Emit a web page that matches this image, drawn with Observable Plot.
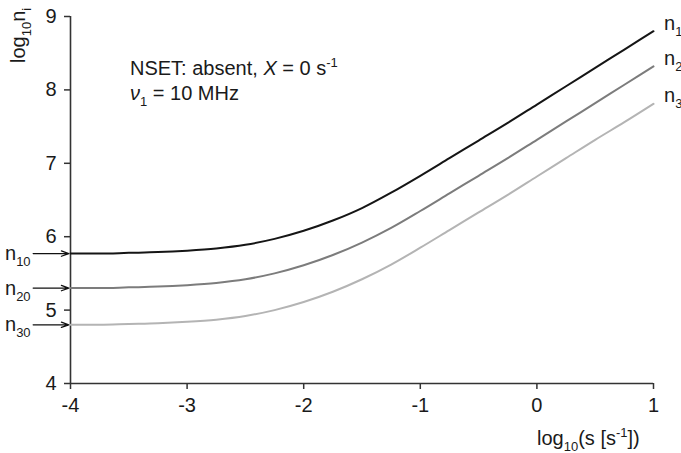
<!DOCTYPE html>
<html>
<head>
<meta charset="utf-8">
<script src="https://cdn.jsdelivr.net/npm/d3@7"></script>
<script src="https://cdn.jsdelivr.net/npm/@observablehq/plot@0.6"></script>
<style>
  html, body { margin: 0; padding: 0; background: #fff; overflow: hidden; }
</style>
</head>
<body>
<div id="chart"></div>
<script>
const xs = [-4, -3.75, -3.5, -3.25, -3, -2.75, -2.5, -2.25, -2, -1.75, -1.5, -1.25, -1, -0.75, -0.5, -0.25, 0, 0.25, 0.5, 0.75, 1];
const n1 = [5.77, 5.77, 5.78, 5.79, 5.81, 5.84, 5.89, 5.97, 6.08, 6.22, 6.39, 6.60, 6.83, 7.07, 7.31, 7.55, 7.80, 8.05, 8.30, 8.55, 8.80];
const n2 = [5.30, 5.30, 5.31, 5.32, 5.34, 5.37, 5.42, 5.50, 5.61, 5.75, 5.92, 6.12, 6.35, 6.59, 6.83, 7.07, 7.32, 7.57, 7.82, 8.07, 8.32];
const n3 = [4.80, 4.80, 4.81, 4.82, 4.84, 4.87, 4.92, 5.00, 5.11, 5.25, 5.42, 5.62, 5.85, 6.09, 6.33, 6.57, 6.82, 7.07, 7.32, 7.56, 7.81];
const seriesNames = ["n1", "n2", "n3"];
const seriesColors = ["#151515", "#7c7c7c", "#b4b4b4"];
const initialNames = ["10", "20", "30"];
const xTicks = [-4, -3, -2, -1, 0, 1];
const yTicks = [4, 5, 6, 7, 8, 9];

const seriesVals = [n1, n2, n3];
const rows = [];
seriesVals.forEach((vals, i) => vals.forEach((v, j) => rows.push({x: xs[j], y: v, s: seriesNames[i]})));
const starts = seriesVals.map((vals, i) => ({y: vals[0], s: seriesNames[i]}));

const FONT = "'Liberation Sans', Arial, sans-serif";
const FS = 20;

const plot = Plot.plot({
  width: 681,
  height: 453,
  marginLeft: 70,
  marginRight: 28,
  marginTop: 16,
  marginBottom: 70,
  style: {fontFamily: FONT, fontSize: FS + "px", color: "#1a1a1a", background: "#fff", overflow: "visible"},
  x: {domain: [-4, 1]},
  y: {domain: [4, 9]},
  color: {domain: seriesNames, range: seriesColors},
  marks: [
    Plot.axisX({ticks: xTicks, tickSize: 6, tickPadding: 8, tickFormat: d => String(d), label: null, stroke: "#333", strokeWidth: 1.5, fontSize: FS}),
    Plot.axisY({ticks: yTicks, tickSize: 6, tickPadding: 8, tickFormat: d => String(d), label: null, stroke: "#333", strokeWidth: 1.5, fontSize: FS}),
    Plot.ruleX([-4], {stroke: "#333", strokeWidth: 1.6}),
    Plot.ruleY([4], {stroke: "#333", strokeWidth: 1.6}),
    Plot.line(rows, {x: "x", y: "y", z: "s", stroke: "s", strokeWidth: 2, curve: "monotone-x"}),
    Plot.arrow(starts, {x1: -4.32, x2: -4.015, y1: "y", y2: "y", stroke: "#111", strokeWidth: 1.3, headLength: 9, headAngle: 40})
  ]
});
document.getElementById("chart").appendChild(plot);

const X = plot.scale("x").apply, Y = plot.scale("y").apply;
const svg = d3.select(plot);

function rich(x, y, parts, opts = {}) {
  const t = svg.append("text")
    .attr("x", x).attr("y", y)
    .attr("text-anchor", "start")
    .attr("font-family", FONT)
    .attr("font-size", opts.size || FS)
    .attr("fill", "#1a1a1a");
  if (opts.rotate) t.attr("transform", `rotate(${opts.rotate},${x},${y})`);
  let shift = 0;
  for (const p of parts) {
    const sp = t.append("tspan").text(p.t);
    let target = 0;
    if (p.sub) { target = 6; sp.attr("font-size", 13); }
    if (p.sup) { target = -8; sp.attr("font-size", 13); }
    if (target - shift !== 0) sp.attr("dy", target - shift);
    shift = target;
    if (p.italic) sp.attr("font-style", "italic");
  }
  return t;
}

// axis titles
rich(537, 445, [{t: "log"}, {t: "10", sub: true}, {t: "(s [s"}, {t: "-1", sup: true}, {t: "])"}]);
rich(25, 63, [{t: "log"}, {t: "10", sub: true}, {t: "n"}, {t: "i", sub: true}], {rotate: -90});

// annotation
rich(130, 75, [{t: "NSET: absent, "}, {t: "X", italic: true}, {t: " = 0 s"}, {t: "-1", sup: true}]);
rich(130, 100, [{t: "ν", italic: true}, {t: "1", sub: true}, {t: " = 10 MHz"}]);

// series labels at right end
seriesVals.forEach((vals, i) => {
  rich(X(1) + 11, Y(vals[vals.length - 1]) - 1, [{t: "n"}, {t: String(i + 1), sub: true}]);
});
// initial value labels at arrows
starts.forEach((d, i) => {
  rich(5, Y(d.y) + 7, [{t: "n"}, {t: initialNames[i], sub: true}]);
});
</script>
</body>
</html>
